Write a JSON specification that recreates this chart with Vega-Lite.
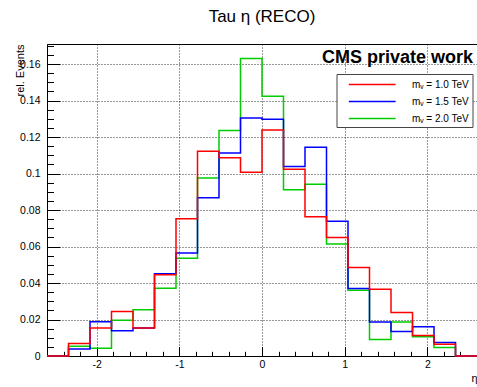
{
  "$schema": "https://vega.github.io/schema/vega-lite/v6.json",
  "width": 430,
  "height": 312,
  "autosize": "none",
  "padding": {"left": 47, "top": 44, "right": 0, "bottom": 31},
  "background": "white",
  "title": {"text": "Tau η (RECO)", "fontSize": 17, "font": "Liberation Sans", "fontWeight": "normal", "color": "black", "anchor": "middle", "frame": "group", "baseline": "alphabetic", "offset": 19, "dy": 17},
  "config": {"view": {"stroke": "black", "strokeWidth": 1}, "font": "Liberation Sans"},
  "data": {"values": [
    {"sample": "2.0", "eta": -2.6, "value": 0},
    {"sample": "2.0", "eta": -2.34, "value": 0.0053},
    {"sample": "2.0", "eta": -2.08, "value": 0.0043},
    {"sample": "2.0", "eta": -1.82, "value": 0.0196},
    {"sample": "2.0", "eta": -1.56, "value": 0.0253},
    {"sample": "2.0", "eta": -1.3, "value": 0.0371},
    {"sample": "2.0", "eta": -1.04, "value": 0.0536},
    {"sample": "2.0", "eta": -0.78, "value": 0.0976},
    {"sample": "2.0", "eta": -0.52, "value": 0.1236},
    {"sample": "2.0", "eta": -0.26, "value": 0.163},
    {"sample": "2.0", "eta": 0, "value": 0.1424},
    {"sample": "2.0", "eta": 0.26, "value": 0.0911},
    {"sample": "2.0", "eta": 0.52, "value": 0.0942},
    {"sample": "2.0", "eta": 0.78, "value": 0.0614},
    {"sample": "2.0", "eta": 1.04, "value": 0.036},
    {"sample": "2.0", "eta": 1.3, "value": 0.0091},
    {"sample": "2.0", "eta": 1.56, "value": 0.0186},
    {"sample": "2.0", "eta": 1.82, "value": 0.0106},
    {"sample": "2.0", "eta": 2.08, "value": 0.0046},
    {"sample": "2.0", "eta": 2.34, "value": 0},
    {"sample": "2.0", "eta": 2.6, "value": 0},
    {"sample": "1.5", "eta": -2.6, "value": 0},
    {"sample": "1.5", "eta": -2.34, "value": 0.0039},
    {"sample": "1.5", "eta": -2.08, "value": 0.0188},
    {"sample": "1.5", "eta": -1.82, "value": 0.0138},
    {"sample": "1.5", "eta": -1.56, "value": 0.0153},
    {"sample": "1.5", "eta": -1.3, "value": 0.0451},
    {"sample": "1.5", "eta": -1.04, "value": 0.0565},
    {"sample": "1.5", "eta": -0.78, "value": 0.0867},
    {"sample": "1.5", "eta": -0.52, "value": 0.1112},
    {"sample": "1.5", "eta": -0.26, "value": 0.1304},
    {"sample": "1.5", "eta": 0, "value": 0.1298},
    {"sample": "1.5", "eta": 0.26, "value": 0.1039},
    {"sample": "1.5", "eta": 0.52, "value": 0.1144},
    {"sample": "1.5", "eta": 0.78, "value": 0.0739},
    {"sample": "1.5", "eta": 1.04, "value": 0.037},
    {"sample": "1.5", "eta": 1.3, "value": 0.0187},
    {"sample": "1.5", "eta": 1.56, "value": 0.0134},
    {"sample": "1.5", "eta": 1.82, "value": 0.016},
    {"sample": "1.5", "eta": 2.08, "value": 0.0074},
    {"sample": "1.5", "eta": 2.34, "value": 0},
    {"sample": "1.5", "eta": 2.6, "value": 0},
    {"sample": "1.0", "eta": -2.6, "value": 0},
    {"sample": "1.0", "eta": -2.34, "value": 0.0068},
    {"sample": "1.0", "eta": -2.08, "value": 0.0153},
    {"sample": "1.0", "eta": -1.82, "value": 0.0244},
    {"sample": "1.0", "eta": -1.56, "value": 0.0153},
    {"sample": "1.0", "eta": -1.3, "value": 0.0446},
    {"sample": "1.0", "eta": -1.04, "value": 0.0752},
    {"sample": "1.0", "eta": -0.78, "value": 0.1122},
    {"sample": "1.0", "eta": -0.52, "value": 0.1086},
    {"sample": "1.0", "eta": -0.26, "value": 0.1007},
    {"sample": "1.0", "eta": 0, "value": 0.1238},
    {"sample": "1.0", "eta": 0.26, "value": 0.1024},
    {"sample": "1.0", "eta": 0.52, "value": 0.0763},
    {"sample": "1.0", "eta": 0.78, "value": 0.065},
    {"sample": "1.0", "eta": 1.04, "value": 0.0485},
    {"sample": "1.0", "eta": 1.3, "value": 0.0366},
    {"sample": "1.0", "eta": 1.56, "value": 0.0238},
    {"sample": "1.0", "eta": 1.82, "value": 0.0112},
    {"sample": "1.0", "eta": 2.08, "value": 0.0065},
    {"sample": "1.0", "eta": 2.34, "value": 0},
    {"sample": "1.0", "eta": 2.6, "value": 0}
  ]},
  "layer": [
    {
      "mark": {"type": "line", "interpolate": "step-after", "strokeWidth": 1.5},
      "encoding": {
        "x": {
          "field": "eta", "type": "quantitative",
          "scale": {"domain": [-2.6, 2.6], "nice": false, "zero": false},
          "axis": {
            "values": [-2.4, -2.2, -2, -1.8, -1.6, -1.4, -1.2, -1, -0.8, -0.6, -0.4, -0.2, 0, 0.2, 0.4, 0.6, 0.8, 1, 1.2, 1.4, 1.6, 1.8, 2, 2.2, 2.4],
            "tickCount": 200,
            "tickSize": {"condition": {"test": "abs(datum.value - round(datum.value)) < 0.001", "value": -9.4}, "value": -4.7},
            "tickColor": "black", "tickWidth": 1,
            "domainColor": "black",
            "grid": true, "gridColor": "black", "gridDash": [1, 2],
            "gridOpacity": {"condition": {"test": "abs(datum.value - round(datum.value)) < 0.001", "value": 0.8}, "value": 0},
            "labelExpr": "abs(datum.value - round(datum.value)) < 0.001 ? '' + round(datum.value) : ''",
            "labelFontSize": 10.5, "labelColor": "black", "labelFont": "Liberation Sans",
            "labelPadding": 12.5, "labelFlush": false, "labelOverlap": false,
            "title": "η", "titleFontSize": 11, "titleFontWeight": "normal", "titleColor": "black",
            "titleAnchor": "end", "titleAlign": "right", "titleX": 430, "titleY": 25, "titleBaseline": "alphabetic"
          }
        },
        "y": {
          "field": "value", "type": "quantitative",
          "scale": {"domain": [0, 0.171], "nice": false},
          "axis": {
            "values": [0, 0.005, 0.01, 0.015, 0.02, 0.025, 0.03, 0.035, 0.04, 0.045, 0.05, 0.055, 0.06, 0.065, 0.07, 0.075, 0.08, 0.085, 0.09, 0.095, 0.1, 0.105, 0.11, 0.115, 0.12, 0.125, 0.13, 0.135, 0.14, 0.145, 0.15, 0.155, 0.16, 0.165, 0.17],
            "tickCount": 200,
            "tickSize": {"condition": {"test": "abs(datum.value * 50 - round(datum.value * 50)) < 0.01", "value": -12.9}, "value": -6.5},
            "tickColor": "black", "tickWidth": 1,
            "domainColor": "black",
            "grid": true, "gridColor": "black", "gridDash": [1, 2],
            "gridOpacity": {"condition": {"test": "abs(datum.value * 50 - round(datum.value * 50)) < 0.01", "value": 0.8}, "value": 0},
            "labelExpr": "abs(datum.value * 50 - round(datum.value * 50)) < 0.01 ? format(datum.value, '~g') : ''",
            "labelFontSize": 10.5, "labelColor": "black", "labelFont": "Liberation Sans",
            "labelPadding": 19.9, "labelFlush": false, "labelOverlap": false,
            "title": "rel. Events", "titleFontSize": 11, "titleFontWeight": "normal", "titleColor": "black",
            "titleAnchor": "end", "titleAngle": -90, "titleAlign": "right", "titleX": -24, "titleY": 0, "titleBaseline": "alphabetic"
          }
        },
        "color": {
          "field": "sample", "type": "nominal",
          "scale": {"domain": ["1.0", "1.5", "2.0"], "range": ["#ff0000", "#0000ff", "#00cc00"]},
          "legend": {
            "orient": "none", "legendX": 289.5, "legendY": 30,
            "direction": "vertical", "title": null,
            "symbolType": "M0.3,0H8.1", "symbolSize": 144, "symbolStrokeWidth": 1.5,
            "labelExpr": "'m\u1D65 = ' + datum.label + ' TeV'",
            "labelFontSize": 10, "labelFont": "Liberation Sans", "labelColor": "black",
            "labelOffset": 58, "padding": 3.5, "rowPadding": 5,
            "strokeColor": "#444444", "fillColor": "white"
          }
        }
      }
    },
    {
      "data": {"values": [{"label": "CMS private work", "eta": 2.552, "value": 0.1604}]},
      "mark": {"type": "text", "align": "right", "baseline": "alphabetic", "font": "Liberation Sans", "fontWeight": "bold", "fontSize": 18, "color": "black"},
      "encoding": {
        "x": {"field": "eta", "type": "quantitative"},
        "y": {"field": "value", "type": "quantitative"},
        "text": {"field": "label"}
      }
    }
  ]
}
